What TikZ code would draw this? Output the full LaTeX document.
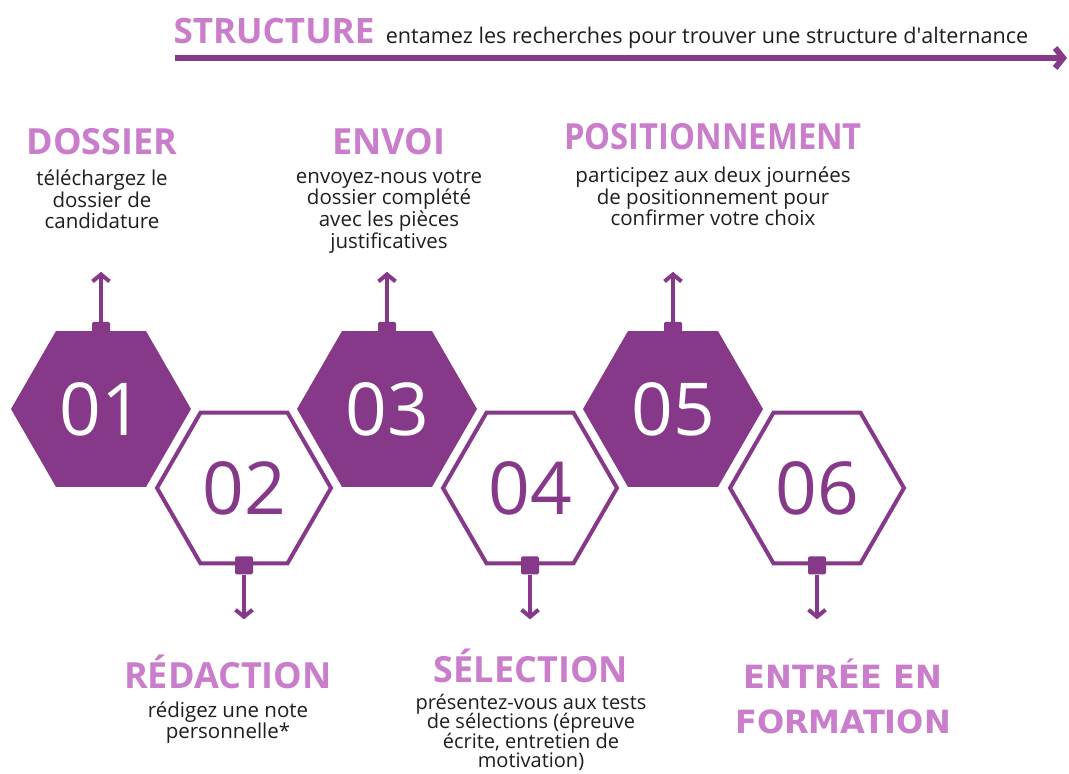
\documentclass[tikz,border=0pt]{standalone}
\usepackage{fontspec}
\setmainfont{Open Sans}
\newfontfamily\entreefont{DejaVu Sans}
\usetikzlibrary{positioning,arrows.meta,shapes.geometric}

\definecolor{hexpurple}{HTML}{863889}
\definecolor{titlepink}{HTML}{C97DCA}
\definecolor{bodygray}{HTML}{1E1E1E}

\begin{document}
\begin{tikzpicture}[x=1pt,y=-1pt,
	hexfull/.style={regular polygon,regular polygon sides=6,minimum size=180pt,
		inner sep=0pt,fill=hexpurple,text=white,font=\fontsize{73}{73}\selectfont},
	hexline/.style={regular polygon,regular polygon sides=6,minimum size=174pt,
		inner sep=0pt,draw=hexpurple,line width=4pt,fill=white,text=hexpurple,
		font=\fontsize{73}{73}\selectfont},
	knob/.style={fill=hexpurple,minimum size=18pt,inner sep=0pt,rounded corners=1.5pt},
	link/.style={hexpurple,line width=4pt,-{Straight Barb[length=7pt,width=17pt]}},
	steptitle/.style={text=titlepink,font=\fontsize{36}{38}\selectfont\bfseries,inner sep=0pt},
	steptext/.style={text=bodygray,font=\fontsize{20.5}{21.7}\selectfont,align=center,inner sep=0pt}
	]

	\useasboundingbox (0,0) rectangle (1069,774);

	% Header
	\node[steptitle,anchor=base,font=\fontsize{35}{38}\selectfont\bfseries] (struct) at (274,43) {STRUCTURE};
	\node[steptext,anchor=base west,font=\fontsize{21.6}{24}\selectfont] (structtxt) at ([xshift=11pt]struct.base east)
		{entamez les recherches pour trouver une structure d\textquotesingle alternance};
	\coordinate (barstart) at (175,58);
	\coordinate (barend) at (1067,58);
	\draw[hexpurple,line width=6pt,-{Straight Barb[length=8pt,width=20pt]}] (barstart) -- (barend);

	% Hexagons
	\foreach \i/\x/\y/\s in {1/101/409/hexfull,2/244/488/hexline,3/387/409/hexfull,
		4/530/488/hexline,5/673/409/hexfull,6/817/488/hexline} {
		\node[\s] (h\i) at (\x,\y) {0\i};
	}

	% Knobs and arrows up
	\foreach \i in {1,3,5} {
		\node[knob] (k\i) at (h\i.north) {};
		\coordinate (a\i) at ([yshift=59pt]h\i.north);
		\draw[link] (k\i.north) -- (a\i);
	}

	% Knobs and arrows down
	\foreach \i in {2,4,6} {
		\node[knob] (k\i) at (h\i.south) {};
		\coordinate (a\i) at ([yshift=-54pt]h\i.south);
		\draw[link] (k\i.south) -- (a\i);
	}

	% Top texts
	\node[steptitle] (t1) at (102,142) {DOSSIER};
	\node[steptext,below=14pt of t1] (d1) {téléchargez le\\dossier de\\candidature};

	\node[steptitle] (t3) at (389,142) {ENVOI};
	\node[steptext,below=14pt of t3] (d3)
		{envoyez-nous votre\\dossier complété\\avec les pièces\\justificatives};

	\node[steptitle] (t5) at (713,137) {\scalebox{0.91}[1]{POSITIONNEMENT}};
	\node[steptext,below=16pt of t5] (d5)
		{participez aux deux journées\\de positionnement pour\\confirmer votre choix};

	% Bottom texts
	\node[steptitle] (t2) at (228,672) {RÉDACTION};
	\node[steptext,below=12pt of t2] (d2) {rédigez une note\\personnelle*};

	\node[steptitle] (t4) at (531,666) {SÉLECTION};
	\node[steptext,below=11pt of t4,
		font={\fontsize{20}{19.2}\selectfont\lineskiplimit-20pt\relax}] (d4)
		{présentez-vous aux tests\\de sélections (épreuve\\écrite, entretien de\\motivation)};

	\node[steptitle,align=center,font=\entreefont\fontsize{32}{45}\selectfont\bfseries]
		(t6) at (843,696) {ENTRÉE EN\\FORMATION};

\end{tikzpicture}
\end{document}
